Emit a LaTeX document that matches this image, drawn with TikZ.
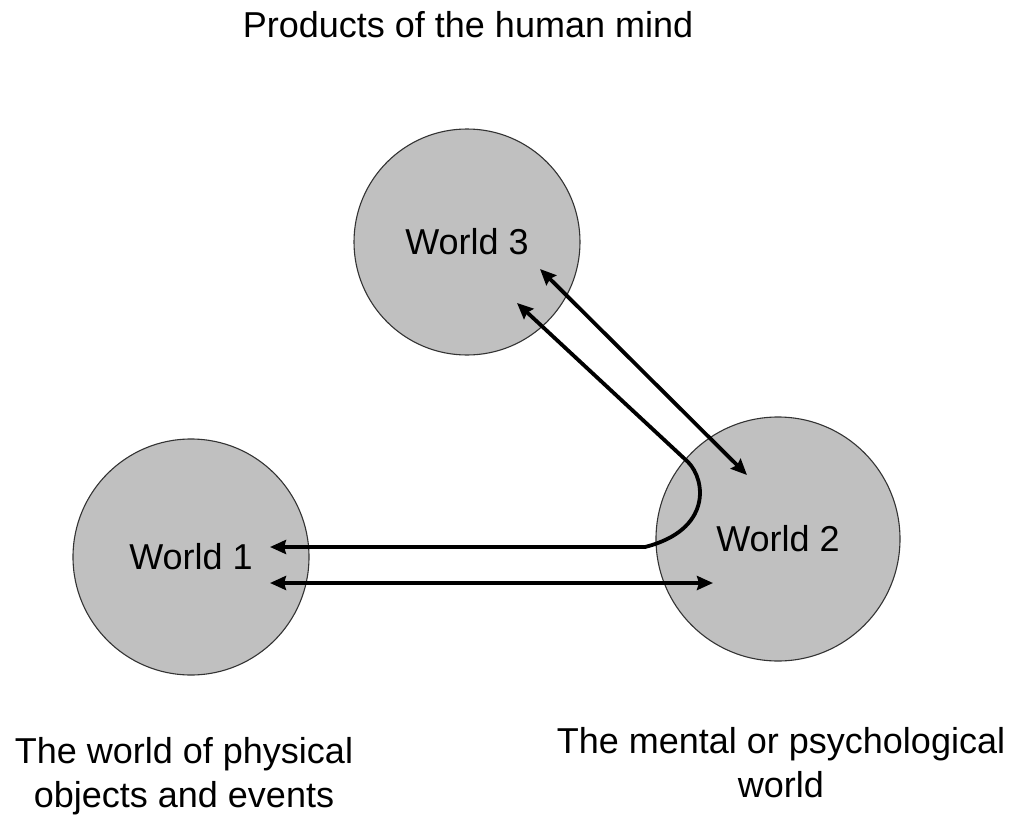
\documentclass[tikz,border=0pt]{standalone}
\usepackage{fontspec}
\setmainfont{Liberation Sans}
\usetikzlibrary{arrows.meta}

\tikzset{
  world/.style={circle, draw=black!80, line width=1.1pt, fill=worldgray,
    inner sep=0pt, font=\fontsize{36}{43}\selectfont},
  caption/.style={font=\fontsize{36}{44}\selectfont, align=center, inner sep=0pt, anchor=base},
  link/.style={line width=3.8pt, line cap=butt,
    arrows={Stealth[length=16pt,width=14pt,inset=2pt]-Stealth[length=16pt,width=14pt,inset=2pt]}},
}
\definecolor{worldgray}{RGB}{192,192,192}

\begin{document}
\begin{tikzpicture}[x=1pt,y=-1pt]
  \useasboundingbox[fill=white] (0,0) rectangle (1018,816);

  % the three worlds
  \node[world, minimum size=226pt] (w3) at (467,242) {World 3};
  \node[world, minimum size=236pt] (w1) at (191,557) {World 1};
  \node[world, minimum size=244pt] (w2) at (778,539) {World 2};

  % captions (base anchor sits on the last line)
  \node[caption] (t3) at (468,38) {Products of the human mind};
  \node[caption] (t1) at (184,807) {The world of physical\\objects and events};
  \node[caption] (t2) at (781,797) {The mental or psychological\\world};

  % arrow end points inside the circles
  \coordinate (w3a) at (540,269);
  \coordinate (w2a) at (747,475);
  \coordinate (w3b) at (517,303);
  \coordinate (w2b) at (688,462);
  \coordinate (w2c) at (645,547);
  \coordinate (w1b) at (270,547);
  \coordinate (w1c) at (270,583);
  \coordinate (w2d) at (713,583);

  % interactions
  \draw[link] (w3a) -- (w2a);
  \draw[link] (w3b) -- (w2b) .. controls (706,480) and (712,530) .. (w2c) -- (w1b);
  \draw[link] (w1c) -- (w2d);
\end{tikzpicture}
\end{document}
